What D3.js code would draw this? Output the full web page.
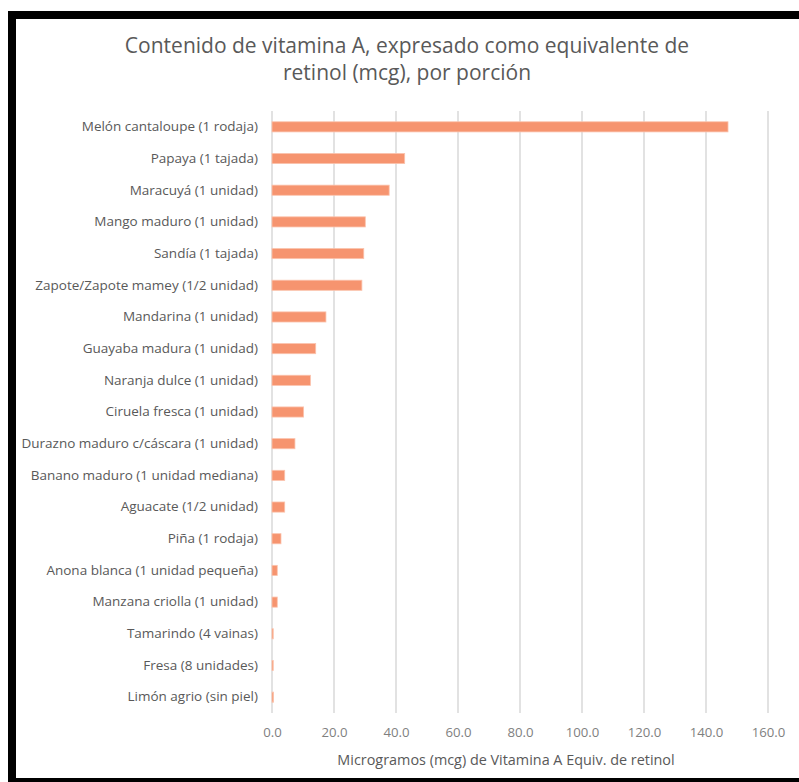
<!DOCTYPE html>
<html>
<head>
<meta charset="utf-8">
<script src="https://cdn.jsdelivr.net/npm/d3@7"></script>
<style>
  body { margin: 0; background: #fff; }
  svg text { font-family: "Open Sans", sans-serif; }
</style>
</head>
<body>
<script>
// data
const categories = [
  "Melón cantaloupe (1 rodaja)",
  "Papaya (1 tajada)",
  "Maracuyá (1 unidad)",
  "Mango maduro (1 unidad)",
  "Sandía (1 tajada)",
  "Zapote/Zapote mamey (1/2 unidad)",
  "Mandarina (1 unidad)",
  "Guayaba madura (1 unidad)",
  "Naranja dulce (1 unidad)",
  "Ciruela fresca (1 unidad)",
  "Durazno maduro c/cáscara (1 unidad)",
  "Banano maduro (1 unidad mediana)",
  "Aguacate (1/2 unidad)",
  "Piña (1 rodaja)",
  "Anona blanca (1 unidad pequeña)",
  "Manzana criolla (1 unidad)",
  "Tamarindo (4 vainas)",
  "Fresa (8 unidades)",
  "Limón agrio (sin piel)"
];
const values = [147.1, 42.8, 37.8, 30.1, 29.6, 29.0, 17.4, 14.1, 12.4, 10.2, 7.4, 4.1, 4.1, 2.9, 1.7, 1.7, 0.4, 0.4, 0.5];
const xTicks = [0, 20, 40, 60, 80, 100, 120, 140, 160];
const title = ["Contenido de vitamina A, expresado como equivalente de", "retinol (mcg), por porción"];
const xTitle = "Microgramos (mcg) de Vitamina A Equiv. de retinol";

const width = 799, height = 782;
const plotL = 272, plotR = 768, plotT = 111, plotB = 713;

const svg = d3.select("body").append("svg")
  .attr("width", width).attr("height", height);

// frame
svg.append("rect").attr("x", 8).attr("y", 11).attr("width", width - 8).attr("height", 8).attr("fill", "#000");
svg.append("rect").attr("x", 8).attr("y", 11).attr("width", 8).attr("height", height - 11).attr("fill", "#000");
svg.append("rect").attr("x", 8).attr("y", 778).attr("width", width - 8).attr("height", 4).attr("fill", "#000");

const x = d3.scaleLinear().domain([0, 160]).range([plotL, plotR]);
const y = d3.scaleBand().domain(categories).range([plotT, plotB]).paddingInner(0.68).paddingOuter(0.34);

// grid
svg.append("g")
  .selectAll("line")
  .data(xTicks)
  .join("line")
  .attr("x1", d => x(d)).attr("x2", d => x(d))
  .attr("y1", plotT).attr("y2", plotB)
  .attr("stroke", "#d9d9d9").attr("stroke-width", 1.5);

// bars
svg.append("g")
  .selectAll("rect")
  .data(values)
  .join("rect")
  .attr("x", x(0))
  .attr("y", (d, i) => y(categories[i]))
  .attr("width", d => x(d) - x(0))
  .attr("height", y.bandwidth())
  .attr("fill", "#f6946f")
  .attr("stroke", "#fbc3ad").attr("stroke-width", 0.8);

// category axis
const yAxis = svg.append("g")
  .attr("transform", `translate(${plotL - 14},0)`)
  .call(d3.axisLeft(y).tickSize(0).tickPadding(0));
yAxis.select(".domain").remove();
yAxis.selectAll("text").attr("fill", "#595959").attr("font-size", 13.5).attr("font-family", "Open Sans");

// value axis
const xAxis = svg.append("g")
  .attr("transform", `translate(0,${plotB + 15})`)
  .call(d3.axisBottom(x).tickValues(xTicks).tickFormat(d3.format(".1f")).tickSize(0).tickPadding(0));
xAxis.select(".domain").remove();
xAxis.selectAll("text").attr("fill", "#7f7f7f").attr("font-size", 13.2).attr("font-family", "Open Sans");

// titles
svg.append("g")
  .selectAll("text")
  .data(title)
  .join("text")
  .attr("x", 407).attr("y", (d, i) => 53 + i * 27)
  .attr("text-anchor", "middle")
  .attr("fill", "#595959").attr("font-size", 21)
  .text(d => d);

svg.append("text")
  .attr("x", 506).attr("y", 765)
  .attr("text-anchor", "middle")
  .attr("fill", "#595959").attr("font-size", 14.4)
  .text(xTitle);
</script>
</body>
</html>
